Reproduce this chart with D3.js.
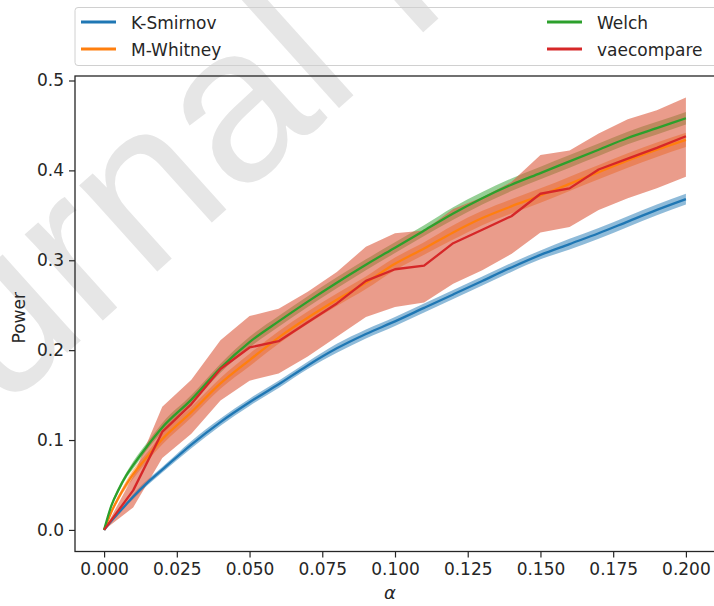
<!DOCTYPE html>
<html><head><meta charset="utf-8">
<script src="https://cdn.jsdelivr.net/npm/d3@7"></script>
<style>html,body{margin:0;padding:0;background:#fff;} svg{display:block;font-family:"DejaVu Sans",sans-serif;}</style>
</head><body><svg id="c" width="714" height="606"></svg>
<script>
// ---- data ----
const alphaFine = [0, 0.0025, 0.005, 0.0075, 0.01, 0.015, 0.02, 0.03, 0.04, 0.05, 0.06, 0.07, 0.08, 0.09, 0.10, 0.11, 0.12, 0.13, 0.14, 0.15, 0.16, 0.17, 0.18, 0.19, 0.20];
const alphaCoarse = [0, 0.01, 0.02, 0.03, 0.04, 0.05, 0.06, 0.07, 0.08, 0.09, 0.10, 0.11, 0.12, 0.13, 0.14, 0.15, 0.16, 0.17, 0.18, 0.19, 0.20];

const ksPower = [0, 0.010, 0.019, 0.028, 0.037, 0.053, 0.067, 0.095, 0.120, 0.142, 0.162, 0.183, 0.202, 0.218, 0.232, 0.247, 0.262, 0.277, 0.292, 0.306, 0.318, 0.330, 0.343, 0.356, 0.368];
const ksSpread = [0, 0.001, 0.002, 0.002, 0.003, 0.003, 0.003, 0.004, 0.004, 0.004, 0.004, 0.004, 0.005, 0.005, 0.005, 0.005, 0.005, 0.005, 0.005, 0.005, 0.006, 0.006, 0.006, 0.006, 0.006];

const mwPower = [0, 0.020, 0.036, 0.050, 0.062, 0.082, 0.101, 0.131, 0.163, 0.189, 0.214, 0.236, 0.256, 0.275, 0.296, 0.313, 0.331, 0.347, 0.360, 0.372, 0.385, 0.398, 0.411, 0.423, 0.434];
const mwSpread = [0, 0.002, 0.003, 0.004, 0.005, 0.005, 0.006, 0.006, 0.006, 0.007, 0.007, 0.007, 0.007, 0.007, 0.007, 0.007, 0.008, 0.008, 0.008, 0.008, 0.008, 0.008, 0.008, 0.008, 0.008];

const welchPower = [0, 0.027, 0.045, 0.060, 0.072, 0.094, 0.114, 0.145, 0.180, 0.209, 0.232, 0.254, 0.275, 0.295, 0.314, 0.333, 0.352, 0.369, 0.384, 0.397, 0.410, 0.423, 0.436, 0.447, 0.458];
const welchSpread = [0, 0.002, 0.003, 0.003, 0.004, 0.004, 0.005, 0.005, 0.005, 0.006, 0.006, 0.006, 0.006, 0.006, 0.006, 0.006, 0.007, 0.007, 0.007, 0.007, 0.007, 0.007, 0.007, 0.007, 0.007];

const vaePower = [0, 0.044, 0.109, 0.140, 0.179, 0.203, 0.210, 0.231, 0.252, 0.277, 0.290, 0.294, 0.319, 0.334, 0.349, 0.374, 0.380, 0.401, 0.413, 0.425, 0.438];
const vaeLow  = [0, 0.025, 0.080, 0.107, 0.144, 0.166, 0.174, 0.193, 0.215, 0.237, 0.248, 0.253, 0.274, 0.289, 0.307, 0.331, 0.337, 0.356, 0.369, 0.380, 0.393];
const vaeHigh = [0, 0.060, 0.137, 0.167, 0.211, 0.238, 0.246, 0.265, 0.287, 0.315, 0.330, 0.333, 0.357, 0.370, 0.387, 0.417, 0.422, 0.441, 0.457, 0.467, 0.481];

const xTicks = [0, 0.025, 0.05, 0.075, 0.1, 0.125, 0.15, 0.175, 0.2];
const yTicks = [0, 0.1, 0.2, 0.3, 0.4, 0.5];
const seriesNames = ["K-Smirnov", "M-Whitney", "Welch", "vaecompare"];
const seriesColors = ["#1f77b4", "#ff7f0e", "#2ca02c", "#d62728"];

// ---- layout ----
const svg = d3.select("#c");
const L = 75, R = 715, T = 76, B = 551.5;
const x = d3.scaleLinear().domain([-0.01, 0.21]).range([L, R]);
const y = d3.scaleLinear().domain([-0.024, 0.505]).range([B, T]);
const ink = "#262626";

// watermark
svg.append("text")
  .attr("transform", "translate(-172,568) rotate(-42)")
  .attr("font-family", "Liberation Sans, Arial, sans-serif")
  .attr("font-size", 220)
  .attr("fill", "#e6e6e6")
  .text("Journal Pre-proof");

const clip = svg.append("defs").append("clipPath").attr("id", "pa");
clip.append("rect").attr("x", L).attr("y", T).attr("width", R - L).attr("height", B - T);
const plot = svg.append("g").attr("clip-path", "url(#pa)");

function bandFine(vals, spread) {
  return alphaFine.map((a, i) => ({a, lo: vals[i] - spread[i], hi: vals[i] + spread[i]}));
}
const areaSmooth = d3.area().x(d => x(d.a)).y0(d => y(d.lo)).y1(d => y(d.hi)).curve(d3.curveMonotoneX);
const lineSmooth = d3.line().x(d => x(d.a)).y(d => y(d.v)).curve(d3.curveMonotoneX);
const areaLin = d3.area().x(d => x(d.a)).y0(d => y(d.lo)).y1(d => y(d.hi));
const lineLin = d3.line().x(d => x(d.a)).y(d => y(d.v));

// bands
plot.append("path").datum(bandFine(ksPower, ksSpread)).attr("d", areaSmooth).attr("fill", seriesColors[0]).attr("opacity", 0.5);
plot.append("path").datum(bandFine(mwPower, mwSpread)).attr("d", areaSmooth).attr("fill", seriesColors[1]).attr("opacity", 0.5);
plot.append("path").datum(bandFine(welchPower, welchSpread)).attr("d", areaSmooth).attr("fill", seriesColors[2]).attr("opacity", 0.5);
plot.append("path").datum(alphaCoarse.map((a, i) => ({a, lo: vaeLow[i], hi: vaeHigh[i]})))
  .attr("d", areaLin).attr("fill", "#dc5a3e").attr("opacity", 0.6);

// lines
const lw = 2.3;
[[ksPower, 0], [mwPower, 1], [welchPower, 2]].forEach(([vals, k]) => {
  plot.append("path").datum(alphaFine.map((a, i) => ({a, v: vals[i]})))
    .attr("d", lineSmooth).attr("fill", "none").attr("stroke", seriesColors[k]).attr("stroke-width", lw);
});
plot.append("path").datum(alphaCoarse.map((a, i) => ({a, v: vaePower[i]})))
  .attr("d", lineLin).attr("fill", "none").attr("stroke", seriesColors[3]).attr("stroke-width", lw).attr("stroke-linejoin", "round");

// axes
const fs = 17;
const xAxis = svg.append("g").attr("transform", `translate(0,${B})`)
  .call(d3.axisBottom(x).tickValues(xTicks).tickFormat(d3.format(".3f")).tickSize(6).tickSizeOuter(0).tickPadding(5));
const yAxis = svg.append("g").attr("transform", `translate(${L},0)`)
  .call(d3.axisLeft(y).tickValues(yTicks).tickFormat(d3.format(".1f")).tickSize(6).tickSizeOuter(0).tickPadding(5));
[xAxis, yAxis].forEach(g => {
  g.select(".domain").remove();
  g.selectAll("line").attr("stroke", ink).attr("stroke-width", 1.2);
  g.selectAll("text").attr("fill", ink).attr("font-size", fs).attr("font-family", "DejaVu Sans, sans-serif");
});

// spines
svg.append("rect").attr("x", L).attr("y", T).attr("width", R - L).attr("height", B - T)
  .attr("fill", "none").attr("stroke", ink).attr("stroke-width", 1.3);

// axis labels
svg.append("text").attr("x", (L + R) / 2 - 5).attr("y", 599).attr("text-anchor", "middle")
  .attr("font-size", 18).attr("font-style", "italic").attr("fill", ink).text("α");
svg.append("text").attr("transform", `translate(25,${(T + B) / 2 + 4}) rotate(-90)`).attr("text-anchor", "middle")
  .attr("font-size", 17).attr("fill", ink).text("Power");

// legend
const leg = svg.append("g");
leg.append("rect").attr("x", 75).attr("y", 7.5).attr("width", 645).attr("height", 58).attr("rx", 3)
  .attr("fill", "none").attr("stroke", "#d0d0d0").attr("stroke-width", 1);
const legPos = [[81, 22], [81, 49], [547, 22], [547, 49]];
seriesNames.forEach((n, k) => {
  const [lx, ly] = legPos[k];
  leg.append("line").attr("x1", lx).attr("x2", lx + 35).attr("y1", ly).attr("y2", ly)
    .attr("stroke", seriesColors[k]).attr("stroke-width", 2.8);
  leg.append("text").attr("x", lx + 50).attr("y", ly + 6.5).attr("font-size", 17).attr("fill", ink).text(n);
});
</script></body></html>
